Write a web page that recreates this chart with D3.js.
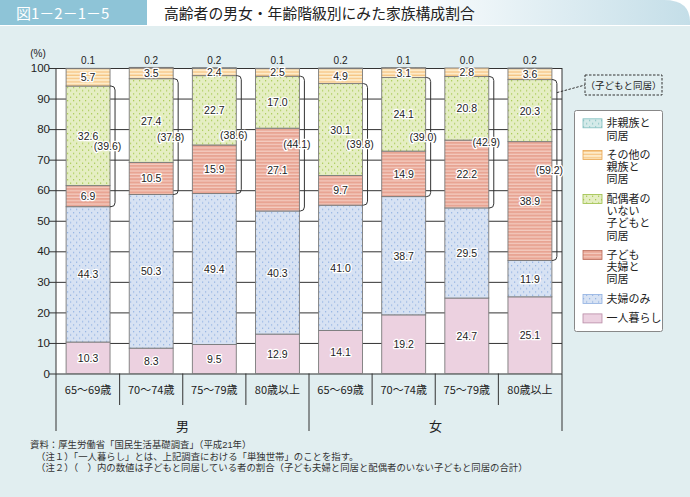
<!DOCTYPE html>
<html><head><meta charset="utf-8">
<script src="https://cdn.jsdelivr.net/npm/d3@7"></script>
<style>body{margin:0;background:#fff}svg{display:block}text{font-family:"Noto Sans CJK JP","Noto Sans",sans-serif}
.num{font-family:"Liberation Sans",Arial,sans-serif}.note{font-family:"Liberation Sans","Noto Sans CJK JP",sans-serif}</style>
</head><body><svg id="c" width="690" height="497"></svg>
<script>
// ---------- data ----------
const categories = ["65～69歳","70～74歳","75～79歳","80歳以上","65～69歳","70～74歳","75～79歳","80歳以上"];
const genders = ["男","女"];
const yTicks = [0,10,20,30,40,50,60,70,80,90,100];
const seriesKeys = ["alone","coupleOnly","withChildCouple","withSingleChild","withOtherKin","withNonKin"];
const alone           = [10.3, 8.3, 9.5, 12.9, 14.1, 19.2, 24.7, 25.1];
const coupleOnly      = [44.3, 50.3, 49.4, 40.3, 41.0, 38.7, 29.5, 11.9];
const withChildCouple = [6.9, 10.5, 15.9, 27.1, 9.7, 14.9, 22.2, 38.9];
const withSingleChild = [32.6, 27.4, 22.7, 17.0, 30.1, 24.1, 20.8, 20.3];
const withOtherKin    = [5.7, 3.5, 2.4, 2.5, 4.9, 3.1, 2.8, 3.6];
const withNonKin      = [0.1, 0.2, 0.2, 0.1, 0.2, 0.1, 0.0, 0.2];
const withChildTotal  = [39.6, 37.8, 38.6, 44.1, 39.8, 39.0, 42.9, 59.2];
const legendKeys   = ["withNonKin","withOtherKin","withSingleChild","withChildCouple","coupleOnly","alone"];
const legendLabels = [["非親族と","同居"],["その他の","親族と","同居"],["配偶者の","いない","子どもと","同居"],["子ども","夫婦と","同居"],["夫婦のみ"],["一人暮らし"]];
const titleNo = "図1－2－1－5";
const titleText = "高齢者の男女・年齢階級別にみた家族構成割合";
const calloutText = "（子どもと同居）";
const notes = ["資料：厚生労働省「国民生活基礎調査」（平成21年）",
  "（注１）「一人暮らし」とは、上記調査における「単独世帯」のことを指す。",
  "（注２）（　）内の数値は子どもと同居している者の割合（子ども夫婦と同居と配偶者のいない子どもと同居の合計）"];

const seriesData = {alone, coupleOnly, withChildCouple, withSingleChild, withOtherKin, withNonKin};
const rows = categories.map((c,i)=>{const r={idx:i,cat:c}; seriesKeys.forEach(k=>r[k]=seriesData[k][i]); return r;});

// ---------- setup ----------
const svg = d3.select("#c");
const defs = svg.append("defs");
function dots(id,bg,fg){
  const p=defs.append("pattern").attr("id",id).attr("patternUnits","userSpaceOnUse").attr("width",6).attr("height",6.6);
  p.append("rect").attr("width",6).attr("height",6.6).attr("fill",bg);
  p.append("rect").attr("x",1).attr("y",1).attr("width",1.2).attr("height",1.2).attr("fill",fg);
  p.append("rect").attr("x",4).attr("y",4.3).attr("width",1.2).attr("height",1.2).attr("fill",fg);
}
function stripes(id,bg,fg){
  const p=defs.append("pattern").attr("id",id).attr("patternUnits","userSpaceOnUse").attr("width",4).attr("height",3.3);
  p.append("rect").attr("width",4).attr("height",3.3).attr("fill",bg);
  p.append("rect").attr("y",2.1).attr("width",4).attr("height",1.1).attr("fill",fg);
}
dots("pBlue","#d7e2f3","#8fb0e2");
dots("pGreen","#e5eec3","#a3c84a");
dots("pTeal","#d4eae9","#7fbfbf");
stripes("pSalmon","#e8a493","#f6d2c7");
stripes("pOrange","#fdebc9","#f6c07a");
const fills = {alone:"#ecd1e0", coupleOnly:"url(#pBlue)", withChildCouple:"url(#pSalmon)", withSingleChild:"url(#pGreen)", withOtherKin:"url(#pOrange)", withNonKin:"url(#pTeal)"};

// background
svg.append("rect").attr("x",0).attr("y",26).attr("width",690).attr("height",471).attr("fill","#e1eef0");
const hg = defs.append("linearGradient").attr("id","hg").attr("x1","0").attr("x2","1");
hg.append("stop").attr("offset","0").attr("stop-color","#ffffff");
hg.append("stop").attr("offset","0.45").attr("stop-color","#ffffff");
hg.append("stop").attr("offset","1").attr("stop-color","#c4dee8");
svg.append("path").attr("d","M147,0 H664 Q690,0 690,22 V25 H147 Z").attr("fill","url(#hg)");
svg.append("rect").attr("x",0).attr("y",0).attr("width",147).attr("height",25).attr("fill","#8ec4d7");
svg.append("text").attr("x",16).attr("y",19).attr("font-size",15).attr("fill","#fff").text(titleNo);
svg.append("text").attr("x",164).attr("y",19).attr("font-size",14.8).attr("fill","#222").text(titleText);

// scales
const x = d3.scaleBand().domain(d3.range(categories.length)).range([56,562]).paddingInner(0.304).paddingOuter(0.16);
const y = d3.scaleLinear().domain([0,100]).range([373.5,68]);
const plotL=56, plotR=562;

svg.append("rect").attr("x",plotL).attr("y",y(100)).attr("width",plotR-plotL).attr("height",y(0)-y(100)).attr("fill","#fff");

// gridlines + y axis
const yAxis = d3.axisLeft(y).tickValues(yTicks).tickSize(-(plotR-plotL)).tickSizeOuter(0).tickPadding(5);
const ga = svg.append("g").attr("transform",`translate(${plotL},0)`).call(yAxis);
ga.select(".domain").remove();
ga.selectAll(".tick line").attr("stroke","#333").attr("stroke-width",1).attr("x1",-7);
ga.selectAll(".tick text").attr("class","num").attr("font-size",11.5).attr("fill","#222").attr("x",-6);
svg.append("text").attr("class","num").attr("x",38).attr("y",57).attr("text-anchor","middle").attr("font-size",10).attr("fill","#222").text("(%)");

// stack
const stack = d3.stack().keys(seriesKeys)(rows);
const layers = svg.append("g").selectAll("g").data(stack).join("g").attr("fill",d=>fills[d.key]);
layers.selectAll("rect").data(d=>d).join("rect")
  .attr("x",d=>x(d.data.idx)).attr("width",x.bandwidth())
  .attr("y",d=>y(d[1])).attr("height",d=>Math.max(0,y(d[0])-y(d[1])))
  .attr("stroke","#7a7a7a").attr("stroke-width",0.9);

// plot frame
svg.append("line").attr("x1",plotL).attr("x2",plotL).attr("y1",y(100)).attr("y2",y(0)).attr("stroke","#333");
svg.append("line").attr("x1",plotR).attr("x2",plotR).attr("y1",y(100)).attr("y2",y(0)).attr("stroke","#333");

// segment labels
function haloText(g,xx,yy,t,size){
  g.append("text").attr("class","num").attr("x",xx).attr("y",yy).attr("text-anchor","middle").attr("dominant-baseline","central")
   .attr("font-size",size).attr("stroke","#fff").attr("stroke-width",2.6).attr("stroke-linejoin","round")
   .attr("paint-order","stroke").attr("fill","#222").text(t);
}
const lg = svg.append("g");
stack.forEach((layer,li)=>{
  layer.forEach(d=>{
    const cx = x(d.data.idx)+x.bandwidth()/2;
    if(layer.key==="withNonKin"){
      lg.append("text").attr("class","num").attr("x",cx).attr("y",y(100)-7.5).attr("text-anchor","middle").attr("dominant-baseline","central")
        .attr("font-size",10).attr("fill","#222").text(d.data[layer.key].toFixed(1));
    } else {
      haloText(lg,cx,y((d[0]+d[1])/2),d.data[layer.key].toFixed(1),10.5);
    }
  });
});

// brackets
const bg = svg.append("g");
rows.forEach((r,i)=>{
  const right = x(i)+x.bandwidth();
  const bx = right+5, rr=4;
  const top = y(r.alone+r.coupleOnly+r.withChildCouple+r.withSingleChild);
  const bot = y(r.alone+r.coupleOnly);
  bg.append("path").attr("d",`M${right},${top} H${bx-rr} Q${bx},${top} ${bx},${top+rr} V${bot-rr} Q${bx},${bot} ${bx-rr},${bot} H${right}`)
    .attr("fill","none").attr("stroke","#333").attr("stroke-width",1);
  haloText(bg,right-2.5,(top+bot)/2,`(${withChildTotal[i].toFixed(1)})`,10.5);
});

// callout
const last = rows.length-1;
const lastTop = y(rows[last].alone+rows[last].coupleOnly+rows[last].withChildCouple+rows[last].withSingleChild);
svg.append("line").attr("x1",x(last)+x.bandwidth()+5).attr("y1",lastTop+13).attr("x2",585).attr("y2",85)
  .attr("stroke","#333").attr("stroke-dasharray","2.5,1.5");
svg.append("rect").attr("x",585).attr("y",75).attr("width",77).attr("height",20).attr("fill","none")
  .attr("stroke","#333").attr("stroke-dasharray","2.5,1.5");
svg.append("text").attr("x",623.5).attr("y",85).attr("text-anchor","middle").attr("dominant-baseline","central")
  .attr("font-size",9.5).attr("fill","#222").text(calloutText);

// x axis labels & dividers
const xg = svg.append("g");
categories.forEach((c,i)=>{
  const left = x(i)-x.step()*x.paddingInner()/2;
  xg.append("text").attr("x",x(i)+x.bandwidth()/2).attr("y",389).attr("text-anchor","middle").attr("dominant-baseline","central")
    .attr("font-size",11).attr("fill","#222").text(c);
  if(i%4!==0) xg.append("line").attr("x1",left).attr("x2",left).attr("y1",y(0)).attr("y2",405).attr("stroke","#333");
});
[plotL,(plotL+plotR)/2,plotR].forEach(v=>xg.append("line").attr("x1",v).attr("x2",v).attr("y1",y(0)).attr("y2",431).attr("stroke","#333"));
genders.forEach((g,i)=>{
  xg.append("text").attr("x",plotL+(plotR-plotL)/4*(1+2*i)).attr("y",425).attr("text-anchor","middle").attr("dominant-baseline","central")
    .attr("font-size",13).attr("fill","#222").text(g);
});

// legend
const leg = svg.append("g");
leg.append("rect").attr("x",574.5).attr("y",110.5).attr("width",88).attr("height",221).attr("rx",2)
  .attr("fill","#fff").attr("stroke","#888");
const borderCol = {withNonKin:"#7fbfbf",withOtherKin:"#e8a650",withSingleChild:"#9cbf45",withChildCouple:"#b86a58",coupleOnly:"#8fb0e2",alone:"#b88aa5"};
let ly = 123.3;
legendKeys.forEach((k,i)=>{
  leg.append("rect").attr("x",583).attr("y",ly-4.5).attr("width",19).attr("height",9).attr("fill",fills[k]).attr("stroke",borderCol[k]).attr("stroke-width",0.8);
  legendLabels[i].forEach((t,j)=>{
    leg.append("text").attr("class","note").attr("x",606.5).attr("y",ly+j*12.2).attr("dominant-baseline","central").attr("font-size",11).attr("fill","#222").text(t);
  });
  ly += (legendLabels[i].length-1)*12.2 + 19.5;
});

// notes
notes.forEach((t,i)=>{
  svg.append("text").attr("class","note").attr("x",i===0?30:36).attr("y",[444,456,467.5][i]).attr("dominant-baseline","central")
    .attr("font-size",9.4).attr("fill","#333").text(t);
});
</script></body></html>
